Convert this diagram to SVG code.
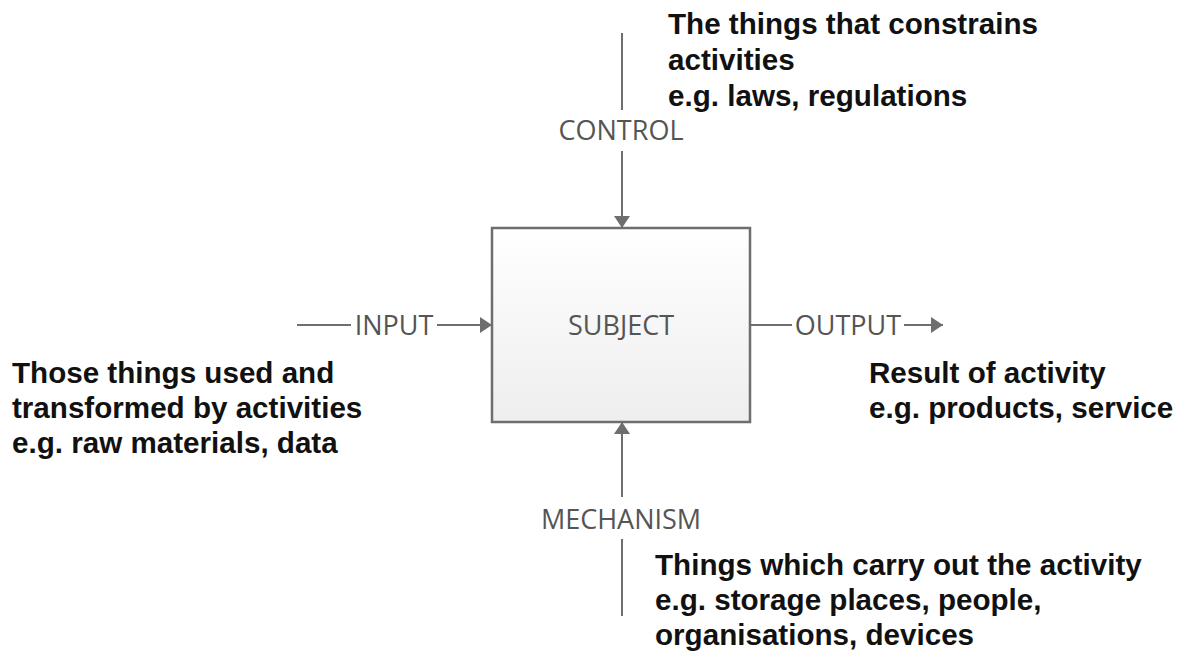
<svg xmlns="http://www.w3.org/2000/svg" width="1181" height="651" viewBox="0 0 1181 651">
  <style>
    .lbl { font-family: "Open Sans", "DejaVu Sans", sans-serif; font-size: 27px; fill: #555555; }
    .note { font-family: "Liberation Sans", Arial, sans-serif; font-size: 29.6px; font-weight: bold; fill: #111; }
    .conn { stroke: #6e6e6e; stroke-width: 2; fill: none; }
  </style>
  <defs>
    <linearGradient id="boxFill" x1="0" y1="0" x2="0" y2="1">
      <stop offset="0" stop-color="#ffffff"/>
      <stop offset="1" stop-color="#eeeeee"/>
    </linearGradient>
    <marker id="arrow" viewBox="0 0 12 16" refX="12" refY="8" markerWidth="12" markerHeight="16" markerUnits="userSpaceOnUse" orient="auto">
      <path d="M0,0 L12,8 L0,16 Z" fill="#6e6e6e"/>
    </marker>
  </defs>
  <rect width="1181" height="651" fill="#ffffff"/>

  <g id="connectors">
    <!-- control -->
    <line class="conn" x1="622" y1="33" x2="622" y2="110"/>
    <line class="conn" x1="622" y1="151" x2="622" y2="228" marker-end="url(#arrow)"/>
    <!-- input -->
    <line class="conn" x1="297" y1="325" x2="351" y2="325"/>
    <line class="conn" x1="437" y1="325" x2="492" y2="325" marker-end="url(#arrow)"/>
    <!-- output -->
    <line class="conn" x1="750" y1="325" x2="792" y2="325"/>
    <line class="conn" x1="904" y1="325" x2="943" y2="325" marker-end="url(#arrow)"/>
    <!-- mechanism -->
    <line class="conn" x1="622" y1="616" x2="622" y2="539"/>
    <line class="conn" x1="622" y1="497" x2="622" y2="422" marker-end="url(#arrow)"/>
  </g>

  <g id="subject">
    <rect x="492" y="228" width="258" height="194" fill="url(#boxFill)" stroke="#6e6e6e" stroke-width="2.5"/>
    <text class="lbl" x="621" y="335" text-anchor="middle">SUBJECT</text>
  </g>

  <g id="control">
    <text class="lbl" x="621" y="140" text-anchor="middle">CONTROL</text>
    <text class="note" x="668" y="34">The things that constrains</text>
    <text class="note" x="668" y="70">activities</text>
    <text class="note" x="668" y="106">e.g. laws, regulations</text>
  </g>

  <g id="input">
    <text class="lbl" x="394" y="335" text-anchor="middle">INPUT</text>
    <text class="note" x="12" y="383">Those things used and</text>
    <text class="note" x="12" y="418">transformed by activities</text>
    <text class="note" x="12" y="453">e.g. raw materials, data</text>
  </g>

  <g id="output">
    <text class="lbl" x="848" y="335" text-anchor="middle">OUTPUT</text>
    <text class="note" x="869" y="383">Result of activity</text>
    <text class="note" x="869" y="418">e.g. products, service</text>
  </g>

  <g id="mechanism">
    <text class="lbl" x="621" y="529" text-anchor="middle">MECHANISM</text>
    <text class="note" x="655" y="575">Things which carry out the activity</text>
    <text class="note" x="655" y="610">e.g. storage places, people,</text>
    <text class="note" x="655" y="645">organisations, devices</text>
  </g>
</svg>
